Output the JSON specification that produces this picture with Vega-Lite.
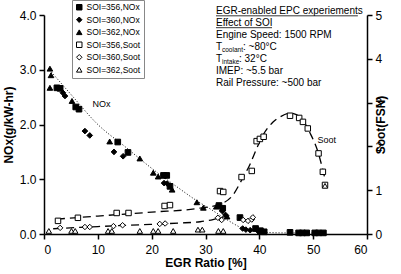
{
  "$schema": "https://vega.github.io/schema/vega-lite/v6.json",
  "width": 323,
  "height": 219,
  "autosize": {"type": "none"},
  "padding": {"left": 44, "top": 15, "right": 34, "bottom": 40},
  "background": "white",
  "datasets": {
    "nox": [
      {"series": "SOI=356,NOx", "egr": 2.4, "nox": 2.67},
      {"series": "SOI=356,NOx", "egr": 3.0, "nox": 2.66},
      {"series": "SOI=356,NOx", "egr": 5.9, "nox": 2.32},
      {"series": "SOI=356,NOx", "egr": 6.5, "nox": 2.28},
      {"series": "SOI=356,NOx", "egr": 13.7, "nox": 1.68},
      {"series": "SOI=356,NOx", "egr": 15.6, "nox": 1.49},
      {"series": "SOI=356,NOx", "egr": 22.2, "nox": 1.07},
      {"series": "SOI=356,NOx", "egr": 22.8, "nox": 1.07},
      {"series": "SOI=356,NOx", "egr": 23.4, "nox": 0.87},
      {"series": "SOI=356,NOx", "egr": 32.5, "nox": 0.52},
      {"series": "SOI=356,NOx", "egr": 33.2, "nox": 0.47},
      {"series": "SOI=356,NOx", "egr": 36.4, "nox": 0.30},
      {"series": "SOI=356,NOx", "egr": 39.3, "nox": 0.10},
      {"series": "SOI=356,NOx", "egr": 40.2, "nox": 0.06},
      {"series": "SOI=356,NOx", "egr": 40.9, "nox": 0.04},
      {"series": "SOI=356,NOx", "egr": 45.7, "nox": 0.03},
      {"series": "SOI=356,NOx", "egr": 47.3, "nox": 0.02},
      {"series": "SOI=356,NOx", "egr": 48.0, "nox": 0.02},
      {"series": "SOI=356,NOx", "egr": 48.8, "nox": 0.02},
      {"series": "SOI=356,NOx", "egr": 50.3, "nox": 0.02},
      {"series": "SOI=356,NOx", "egr": 51.0, "nox": 0.02},
      {"series": "SOI=356,NOx", "egr": 51.9, "nox": 0.02},
      {"series": "SOI=360,NOx", "egr": 3.5, "nox": 2.58},
      {"series": "SOI=360,NOx", "egr": 3.9, "nox": 2.52},
      {"series": "SOI=360,NOx", "egr": 7.6, "nox": 1.88},
      {"series": "SOI=360,NOx", "egr": 8.5, "nox": 1.80},
      {"series": "SOI=360,NOx", "egr": 13.0, "nox": 1.50},
      {"series": "SOI=360,NOx", "egr": 14.7, "nox": 1.42},
      {"series": "SOI=360,NOx", "egr": 22.3, "nox": 0.93},
      {"series": "SOI=360,NOx", "egr": 22.9, "nox": 0.92},
      {"series": "SOI=360,NOx", "egr": 33.1, "nox": 0.42},
      {"series": "SOI=360,NOx", "egr": 33.7, "nox": 0.35},
      {"series": "SOI=360,NOx", "egr": 36.9, "nox": 0.10},
      {"series": "SOI=360,NOx", "egr": 37.5, "nox": 0.08},
      {"series": "SOI=360,NOx", "egr": 38.3, "nox": 0.07},
      {"series": "SOI=360,NOx", "egr": 39.8, "nox": 0.05},
      {"series": "SOI=362,NOx", "egr": 1.1, "nox": 3.02},
      {"series": "SOI=362,NOx", "egr": 1.3, "nox": 2.90},
      {"series": "SOI=362,NOx", "egr": 1.1, "nox": 2.67},
      {"series": "SOI=362,NOx", "egr": 5.2, "nox": 2.43},
      {"series": "SOI=362,NOx", "egr": 12.2, "nox": 1.69},
      {"series": "SOI=362,NOx", "egr": 17.8, "nox": 1.38},
      {"series": "SOI=362,NOx", "egr": 20.3, "nox": 1.12},
      {"series": "SOI=362,NOx", "egr": 21.2, "nox": 1.05},
      {"series": "SOI=362,NOx", "egr": 23.8, "nox": 0.81},
      {"series": "SOI=362,NOx", "egr": 28.4, "nox": 0.58},
      {"series": "SOI=362,NOx", "egr": 29.6, "nox": 0.48},
      {"series": "SOI=362,NOx", "egr": 32.0, "nox": 0.50},
      {"series": "SOI=362,NOx", "egr": 34.0, "nox": 0.32}
    ],
    "noxFit": [
      {"egr": 1.0, "nox": 3.0},
      {"egr": 5, "nox": 2.55},
      {"egr": 10, "nox": 2.0},
      {"egr": 15, "nox": 1.6},
      {"egr": 20, "nox": 1.2},
      {"egr": 25, "nox": 0.84},
      {"egr": 28.5, "nox": 0.6},
      {"egr": 31, "nox": 0.45},
      {"egr": 34, "nox": 0.26},
      {"egr": 37, "nox": 0.1},
      {"egr": 39, "nox": 0.05},
      {"egr": 41, "nox": 0.03},
      {"egr": 45, "nox": 0.02},
      {"egr": 52, "nox": 0.02}
    ],
    "soot": [
      {"series": "SOI=356,Soot", "egr": 2.6, "soot": 0.30},
      {"series": "SOI=356,Soot", "egr": 6.3, "soot": 0.37},
      {"series": "SOI=356,Soot", "egr": 13.5, "soot": 0.48},
      {"series": "SOI=356,Soot", "egr": 15.7, "soot": 0.48},
      {"series": "SOI=356,Soot", "egr": 22.4, "soot": 0.64},
      {"series": "SOI=356,Soot", "egr": 23.4, "soot": 0.66},
      {"series": "SOI=356,Soot", "egr": 32.7, "soot": 0.98},
      {"series": "SOI=356,Soot", "egr": 33.3, "soot": 0.96},
      {"series": "SOI=356,Soot", "egr": 36.7, "soot": 1.30},
      {"series": "SOI=356,Soot", "egr": 38.6, "soot": 1.44},
      {"series": "SOI=356,Soot", "egr": 39.5, "soot": 2.12},
      {"series": "SOI=356,Soot", "egr": 40.1, "soot": 2.17},
      {"series": "SOI=356,Soot", "egr": 40.8, "soot": 2.22},
      {"series": "SOI=356,Soot", "egr": 45.7, "soot": 2.70},
      {"series": "SOI=356,Soot", "egr": 47.4, "soot": 2.65},
      {"series": "SOI=356,Soot", "egr": 48.1, "soot": 2.56},
      {"series": "SOI=356,Soot", "egr": 49.0, "soot": 2.41},
      {"series": "SOI=356,Soot", "egr": 51.0, "soot": 1.84},
      {"series": "SOI=356,Soot", "egr": 51.8, "soot": 1.42},
      {"series": "SOI=356,Soot", "egr": 52.2, "soot": 1.12},
      {"series": "SOI=360,Soot", "egr": 3.0, "soot": 0.14},
      {"series": "SOI=360,Soot", "egr": 7.6, "soot": 0.16},
      {"series": "SOI=360,Soot", "egr": 8.5, "soot": 0.16},
      {"series": "SOI=360,Soot", "egr": 12.9, "soot": 0.18},
      {"series": "SOI=360,Soot", "egr": 14.6, "soot": 0.20},
      {"series": "SOI=360,Soot", "egr": 21.5, "soot": 0.23},
      {"series": "SOI=360,Soot", "egr": 22.5, "soot": 0.24},
      {"series": "SOI=360,Soot", "egr": 32.3, "soot": 0.37},
      {"series": "SOI=360,Soot", "egr": 33.0, "soot": 0.32},
      {"series": "SOI=360,Soot", "egr": 37.0, "soot": 0.32},
      {"series": "SOI=360,Soot", "egr": 37.9, "soot": 0.30},
      {"series": "SOI=360,Soot", "egr": 38.6, "soot": 0.33},
      {"series": "SOI=360,Soot", "egr": 38.8, "soot": 0.38},
      {"series": "SOI=362,Soot", "egr": 0.9, "soot": 0.07},
      {"series": "SOI=362,Soot", "egr": 5.1, "soot": 0.07},
      {"series": "SOI=362,Soot", "egr": 5.8, "soot": 0.07},
      {"series": "SOI=362,Soot", "egr": 11.9, "soot": 0.07},
      {"series": "SOI=362,Soot", "egr": 12.6, "soot": 0.07},
      {"series": "SOI=362,Soot", "egr": 17.8, "soot": 0.07},
      {"series": "SOI=362,Soot", "egr": 20.3, "soot": 0.07},
      {"series": "SOI=362,Soot", "egr": 21.2, "soot": 0.07},
      {"series": "SOI=362,Soot", "egr": 24.0, "soot": 0.07},
      {"series": "SOI=362,Soot", "egr": 28.6, "soot": 0.10},
      {"series": "SOI=362,Soot", "egr": 29.4, "soot": 0.10},
      {"series": "SOI=362,Soot", "egr": 32.4, "soot": 0.07},
      {"series": "SOI=362,Soot", "egr": 33.3, "soot": 0.07},
      {"series": "SOI=362,Soot", "egr": 52.2, "soot": 1.10}
    ],
    "sootFit": [
      {"fit": "SOI=356", "egr": 2.4, "soot": 0.34},
      {"fit": "SOI=356", "egr": 10, "soot": 0.41},
      {"fit": "SOI=356", "egr": 20, "soot": 0.50},
      {"fit": "SOI=356", "egr": 29, "soot": 0.59},
      {"fit": "SOI=356", "egr": 32.7, "soot": 0.68},
      {"fit": "SOI=356", "egr": 35.1, "soot": 0.89},
      {"fit": "SOI=356", "egr": 36.8, "soot": 1.25},
      {"fit": "SOI=356", "egr": 38.3, "soot": 1.6},
      {"fit": "SOI=356", "egr": 39.6, "soot": 1.98},
      {"fit": "SOI=356", "egr": 40.7, "soot": 2.26},
      {"fit": "SOI=356", "egr": 42.5, "soot": 2.55},
      {"fit": "SOI=356", "egr": 43.8, "soot": 2.67},
      {"fit": "SOI=356", "egr": 45.7, "soot": 2.76},
      {"fit": "SOI=356", "egr": 47.6, "soot": 2.67},
      {"fit": "SOI=356", "egr": 49.4, "soot": 2.31},
      {"fit": "SOI=356", "egr": 50.9, "soot": 1.87},
      {"fit": "SOI=356", "egr": 51.8, "soot": 1.46},
      {"fit": "SOI=356", "egr": 52.2, "soot": 1.25},
      {"fit": "SOI=360", "egr": 1.7, "soot": 0.12},
      {"fit": "SOI=360", "egr": 10, "soot": 0.17},
      {"fit": "SOI=360", "egr": 17.8, "soot": 0.21},
      {"fit": "SOI=360", "egr": 25, "soot": 0.25},
      {"fit": "SOI=360", "egr": 29, "soot": 0.28},
      {"fit": "SOI=360", "egr": 31.4, "soot": 0.33},
      {"fit": "SOI=360", "egr": 33, "soot": 0.38},
      {"fit": "SOI=360", "egr": 34.5, "soot": 0.42}
    ]
  },
  "layer": [
    {
      "layer": [
        {
          "data": {"name": "noxFit"},
          "mark": {"type": "line", "color": "black", "strokeWidth": 1, "strokeDash": [1, 2], "interpolate": "monotone"},
          "encoding": {
            "x": {
              "field": "egr", "type": "quantitative",
              "scale": {"domain": [0, 60], "nice": false, "zero": false},
              "axis": {"values": [0, 10, 20, 30, 40, 50, 60], "title": "EGR Ratio [%]", "labelPadding": 5, "titlePadding": 2}
            },
            "y": {
              "field": "nox", "type": "quantitative",
              "scale": {"domain": [0, 4], "nice": false},
              "axis": {"values": [0, 1, 2, 3, 4], "format": ".1f", "title": "NOx(g/kW-hr)", "labelPadding": 3, "titlePadding": 4}
            }
          }
        },
        {
          "data": {"name": "nox"},
          "mark": {"type": "point", "filled": true, "strokeWidth": 1, "size": 32, "opacity": 1},
          "encoding": {
            "x": {
              "field": "egr", "type": "quantitative",
              "scale": {"domain": [0, 60], "nice": false, "zero": false},
              "axis": {"values": [0, 10, 20, 30, 40, 50, 60], "title": "EGR Ratio [%]", "labelPadding": 5, "titlePadding": 2}
            },
            "y": {
              "field": "nox", "type": "quantitative",
              "scale": {"domain": [0, 4], "nice": false},
              "axis": {"values": [0, 1, 2, 3, 4], "format": ".1f", "title": "NOx(g/kW-hr)", "labelPadding": 3, "titlePadding": 4}
            },
            "shape": {
              "field": "series", "type": "nominal",
              "scale": {
                "domain": ["SOI=356,NOx", "SOI=360,NOx", "SOI=362,NOx", "SOI=356,Soot", "SOI=360,Soot", "SOI=362,Soot"],
                "range": ["square", "diamond", "triangle-up", "square", "diamond", "triangle-up"]
              },
              "legend": {"title": null, "strokeColor": "#888888"}
            },
            "fill": {
              "field": "series", "type": "nominal",
              "scale": {
                "domain": ["SOI=356,NOx", "SOI=360,NOx", "SOI=362,NOx", "SOI=356,Soot", "SOI=360,Soot", "SOI=362,Soot"],
                "range": ["black", "black", "black", "white", "white", "white"]
              },
              "legend": {"title": null, "strokeColor": "#888888"}
            },
            "stroke": {
              "field": "series", "type": "nominal",
              "scale": {
                "domain": ["SOI=356,NOx", "SOI=360,NOx", "SOI=362,NOx", "SOI=356,Soot", "SOI=360,Soot", "SOI=362,Soot"],
                "range": ["black", "black", "black", "black", "black", "black"]
              },
              "legend": {"title": null, "strokeColor": "#888888"}
            }
          }
        },
        {
          "data": {"values": [{"label": "NOx"}]},
          "mark": {"type": "text", "fontSize": 9, "align": "center", "baseline": "middle", "color": "black"},
          "encoding": {"text": {"field": "label"}, "x": {"datum": 10.7}, "y": {"datum": 2.37}}
        },
        {
          "data": {"values": [{"label": "Soot"}]},
          "mark": {"type": "text", "fontSize": 9, "align": "center", "baseline": "middle", "color": "black"},
          "encoding": {"text": {"field": "label"}, "x": {"datum": 52.5}, "y": {"datum": 1.72}}
        },
        {
          "data": {"values": [{"label": "EGR-enabled EPC experiements"}]},
          "mark": {"type": "text", "fontSize": 10, "align": "left", "baseline": "alphabetic", "color": "black"},
          "encoding": {"text": {"field": "label"}, "x": {"datum": 31.95}, "y": {"datum": 4.013}}
        },
        {
          "data": {"values": [{"label": "underline"}]},
          "mark": {"type": "rule", "color": "black", "strokeWidth": 0.8},
          "encoding": {"x": {"datum": 31.95}, "x2": {"datum": 58.3}, "y": {"datum": 3.985}}
        },
        {
          "data": {"values": [{"label": "Effect of SOI"}]},
          "mark": {"type": "text", "fontSize": 10, "align": "left", "baseline": "alphabetic", "color": "black"},
          "encoding": {"text": {"field": "label"}, "x": {"datum": 31.95}, "y": {"datum": 3.795}}
        },
        {
          "data": {"values": [{"label": "underline"}]},
          "mark": {"type": "rule", "color": "black", "strokeWidth": 0.8},
          "encoding": {"x": {"datum": 31.95}, "x2": {"datum": 42.36}, "y": {"datum": 3.768}}
        },
        {
          "data": {"values": [{"label": "Engine Speed: 1500 RPM"}]},
          "mark": {"type": "text", "fontSize": 10, "align": "left", "baseline": "alphabetic", "color": "black"},
          "encoding": {"text": {"field": "label"}, "x": {"datum": 31.95}, "y": {"datum": 3.578}}
        },
        {
          "data": {"values": [{"label": "T"}]},
          "mark": {"type": "text", "fontSize": 10, "align": "left", "baseline": "alphabetic", "color": "black"},
          "encoding": {"text": {"field": "label"}, "x": {"datum": 31.95}, "y": {"datum": 3.359}}
        },
        {
          "data": {"values": [{"label": "coolant"}]},
          "mark": {"type": "text", "fontSize": 6.5, "align": "left", "baseline": "alphabetic", "dx": 6, "dy": 2, "color": "black"},
          "encoding": {"text": {"field": "label"}, "x": {"datum": 31.95}, "y": {"datum": 3.359}}
        },
        {
          "data": {"values": [{"label": ": ~80°C"}]},
          "mark": {"type": "text", "fontSize": 10, "align": "left", "baseline": "alphabetic", "dx": 27, "color": "black"},
          "encoding": {"text": {"field": "label"}, "x": {"datum": 31.95}, "y": {"datum": 3.359}}
        },
        {
          "data": {"values": [{"label": "T"}]},
          "mark": {"type": "text", "fontSize": 10, "align": "left", "baseline": "alphabetic", "color": "black"},
          "encoding": {"text": {"field": "label"}, "x": {"datum": 31.95}, "y": {"datum": 3.142}}
        },
        {
          "data": {"values": [{"label": "intake"}]},
          "mark": {"type": "text", "fontSize": 6.5, "align": "left", "baseline": "alphabetic", "dx": 6, "dy": 2, "color": "black"},
          "encoding": {"text": {"field": "label"}, "x": {"datum": 31.95}, "y": {"datum": 3.142}}
        },
        {
          "data": {"values": [{"label": ": 32°C"}]},
          "mark": {"type": "text", "fontSize": 10, "align": "left", "baseline": "alphabetic", "dx": 23, "color": "black"},
          "encoding": {"text": {"field": "label"}, "x": {"datum": 31.95}, "y": {"datum": 3.142}}
        },
        {
          "data": {"values": [{"label": "IMEP: ~5.5 bar"}]},
          "mark": {"type": "text", "fontSize": 10, "align": "left", "baseline": "alphabetic", "color": "black"},
          "encoding": {"text": {"field": "label"}, "x": {"datum": 31.95}, "y": {"datum": 2.925}}
        },
        {
          "data": {"values": [{"label": "Rail Pressure: ~500 bar"}]},
          "mark": {"type": "text", "fontSize": 10, "align": "left", "baseline": "alphabetic", "color": "black"},
          "encoding": {"text": {"field": "label"}, "x": {"datum": 31.95}, "y": {"datum": 2.706}}
        }
      ]
    },
    {
      "layer": [
        {
          "data": {"name": "sootFit"},
          "mark": {"type": "line", "color": "black", "strokeWidth": 1.3, "strokeDash": [8, 5], "interpolate": "monotone"},
          "encoding": {
            "x": {
              "field": "egr", "type": "quantitative",
              "scale": {"domain": [0, 60], "nice": false, "zero": false},
              "axis": {"values": [0, 10, 20, 30, 40, 50, 60], "title": "EGR Ratio [%]", "labelPadding": 5, "titlePadding": 2}
            },
            "y": {
              "field": "soot", "type": "quantitative",
              "scale": {"domain": [0, 5], "nice": false},
              "axis": {"orient": "right", "values": [0, 1, 2, 3, 4, 5], "format": "d", "title": "Soot(FSN)", "titleAngle": 270, "labelPadding": 3, "titlePadding": 6}
            },
            "detail": {"field": "fit", "type": "nominal"}
          }
        },
        {
          "data": {"name": "soot"},
          "mark": {"type": "point", "filled": true, "strokeWidth": 1, "size": 30, "opacity": 1},
          "encoding": {
            "x": {
              "field": "egr", "type": "quantitative",
              "scale": {"domain": [0, 60], "nice": false, "zero": false},
              "axis": {"values": [0, 10, 20, 30, 40, 50, 60], "title": "EGR Ratio [%]", "labelPadding": 5, "titlePadding": 2}
            },
            "y": {
              "field": "soot", "type": "quantitative",
              "scale": {"domain": [0, 5], "nice": false},
              "axis": {"orient": "right", "values": [0, 1, 2, 3, 4, 5], "format": "d", "title": "Soot(FSN)", "titleAngle": 270, "labelPadding": 3, "titlePadding": 6}
            },
            "shape": {
              "field": "series", "type": "nominal",
              "scale": {
                "domain": ["SOI=356,NOx", "SOI=360,NOx", "SOI=362,NOx", "SOI=356,Soot", "SOI=360,Soot", "SOI=362,Soot"],
                "range": ["square", "diamond", "triangle-up", "square", "diamond", "triangle-up"]
              },
              "legend": {"title": null, "strokeColor": "#888888"}
            },
            "fill": {
              "field": "series", "type": "nominal",
              "scale": {
                "domain": ["SOI=356,NOx", "SOI=360,NOx", "SOI=362,NOx", "SOI=356,Soot", "SOI=360,Soot", "SOI=362,Soot"],
                "range": ["black", "black", "black", "white", "white", "white"]
              },
              "legend": {"title": null, "strokeColor": "#888888"}
            },
            "stroke": {
              "field": "series", "type": "nominal",
              "scale": {
                "domain": ["SOI=356,NOx", "SOI=360,NOx", "SOI=362,NOx", "SOI=356,Soot", "SOI=360,Soot", "SOI=362,Soot"],
                "range": ["black", "black", "black", "black", "black", "black"]
              },
              "legend": {"title": null, "strokeColor": "#888888"}
            }
          }
        }
      ]
    }
  ],
  "resolve": {"scale": {"y": "independent"}},
  "config": {
    "font": "Liberation Sans",
    "view": {"stroke": null},
    "axis": {
      "grid": false,
      "domainColor": "black",
      "domainWidth": 1.5,
      "tickColor": "black",
      "tickWidth": 1.5,
      "tickSize": 5,
      "labelColor": "black",
      "labelFontSize": 12,
      "labelFont": "Liberation Sans",
      "titleColor": "black",
      "titleFontSize": 12,
      "titleFontWeight": "bold",
      "titleFont": "Liberation Sans"
    },
    "legend": {
      "orient": "none",
      "legendX": 28,
      "legendY": -15,
      "strokeColor": "#888888",
      "fillColor": "white",
      "padding": 3,
      "labelFont": "Liberation Sans",
      "labelColor": "black",
      "labelFontSize": 8.5,
      "labelOffset": 3,
      "symbolSize": 30,
      "rowPadding": 2.5,
      "symbolStrokeWidth": 1
    }
  }
}
